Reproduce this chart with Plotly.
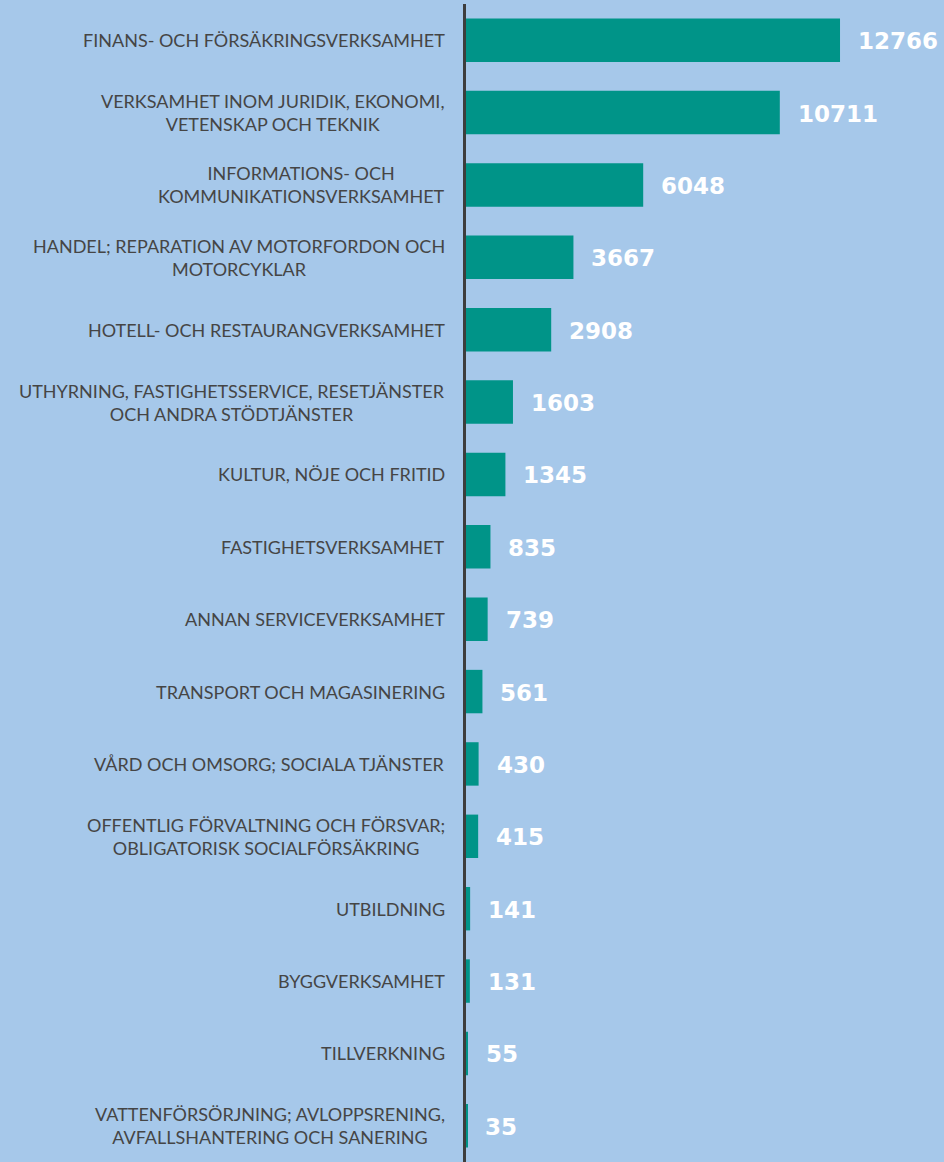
import plotly.graph_objects as go

categories = [
    "FINANS- OCH FÖRSÄKRINGSVERKSAMHET",
    "VERKSAMHET INOM JURIDIK, EKONOMI,<br>VETENSKAP OCH TEKNIK",
    "INFORMATIONS- OCH<br>KOMMUNIKATIONSVERKSAMHET",
    "HANDEL; REPARATION AV MOTORFORDON OCH<br>MOTORCYKLAR",
    "HOTELL- OCH RESTAURANGVERKSAMHET",
    "UTHYRNING, FASTIGHETSSERVICE, RESETJÄNSTER<br>OCH ANDRA STÖDTJÄNSTER",
    "KULTUR, NÖJE OCH FRITID",
    "FASTIGHETSVERKSAMHET",
    "ANNAN SERVICEVERKSAMHET",
    "TRANSPORT OCH MAGASINERING",
    "VÅRD OCH OMSORG; SOCIALA TJÄNSTER",
    "OFFENTLIG FÖRVALTNING OCH FÖRSVAR;<br>OBLIGATORISK SOCIALFÖRSÄKRING",
    "UTBILDNING",
    "BYGGVERKSAMHET",
    "TILLVERKNING",
    "VATTENFÖRSÖRJNING; AVLOPPSRENING,<br>AVFALLSHANTERING OCH SANERING",
]
values = [12766, 10711, 6048, 3667, 2908, 1603, 1345, 835, 739, 561, 430, 415, 141, 131, 55, 35]

BG = "#a6c8ea"
BAR = "#009488"
TXT = "#454545"

ids = list(range(len(categories)))

fig = go.Figure(go.Bar(
    x=values, y=ids, orientation="h",
    marker=dict(color=BAR, line=dict(width=0)),
    width=0.6, hoverinfo="skip",
))

annotations = []
for i, (c, v) in enumerate(zip(categories, values)):
    annotations.append(dict(
        x=0, xref="paper", y=i, yref="y", text=c, showarrow=False,
        xanchor="right", yanchor="middle", align="center", xshift=-19,
        font=dict(family="Lato, sans-serif", size=18, color=TXT),
    ))
    annotations.append(dict(
        x=v, xref="x", y=i, yref="y", text=f"<b>{v}</b>", showarrow=False,
        xanchor="left", yanchor="middle", xshift=16, yshift=-1,
        font=dict(family="DejaVu Sans, sans-serif", size=23, color="white"),
    ))

fig.update_layout(
    width=944, height=1162,
    margin=dict(l=466, r=0, t=4, b=0),
    paper_bgcolor=BG, plot_bgcolor=BG,
    showlegend=False,
    annotations=annotations,
    xaxis=dict(range=[0, 16315], visible=False, fixedrange=True),
    yaxis=dict(range=[15.5, -0.5], showticklabels=False, showgrid=False,
               zeroline=False, showline=True, linecolor="#3d3d3d", linewidth=3,
               ticks="", fixedrange=True),
)

fig.write_html(
    "out.html",
    config={"displayModeBar": False},
    post_script="document.body.style.margin='0';document.body.style.background='#a6c8ea';document.body.style.overflow='hidden';",
)
